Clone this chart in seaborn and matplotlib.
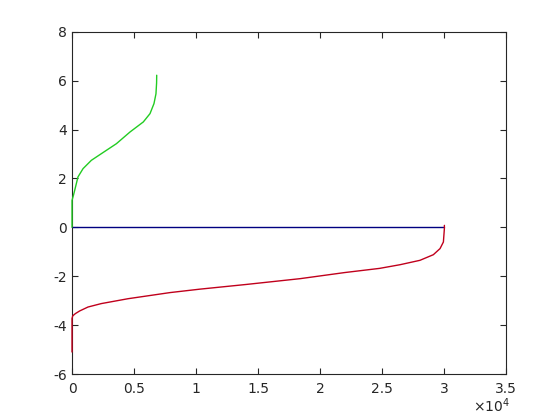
import matplotlib
matplotlib.use("Agg")
import matplotlib.pyplot as plt
import seaborn as sns
import pandas as pd

# Green curve (sorted positive values)
green_x = [0, 0, 110, 215, 480, 890, 1560, 2360, 3580, 4680, 5750, 6290, 6610, 6770, 6820, 6830]
green_y = [0.0, 1.1, 1.3, 1.51, 2.06, 2.40, 2.74, 3.01, 3.42, 3.90, 4.31, 4.65, 5.06, 5.46, 5.9, 6.22]

# Red curve (sorted negative values)
red_x = [0, 0, 60, 270, 620, 1290, 2360, 4520, 7900, 10300, 14000, 18400, 22000, 24800,
         26450, 28060, 29140, 29680, 29950, 30030, 30030]
red_y = [-5.1, -3.73, -3.62, -3.53, -3.42, -3.26, -3.12, -2.92, -2.67, -2.53, -2.34, -2.1,
         -1.85, -1.68, -1.53, -1.35, -1.12, -0.87, -0.6, -0.05, 0.08]

# Blue baseline
blue_x = [0, 30030]
blue_y = [0, 0]

xticks = [0, 5000, 10000, 15000, 20000, 25000, 30000, 35000]
xtick_labels = ['0', '0.5', '1', '1.5', '2', '2.5', '3', '3.5']
yticks = [-6, -4, -2, 0, 2, 4, 6, 8]
ytick_labels = ['-6', '-4', '-2', '0', '2', '4', '6', '8']

sns.set_style("white")
plt.rcParams['font.family'] = ['DejaVu Sans']

fig = plt.figure(figsize=(5.6, 4.2), dpi=100)
ax = fig.add_axes([0.1286, 0.1095, 0.775, 0.815])

dg = pd.DataFrame({'x': green_x, 'y': green_y})
dr = pd.DataFrame({'x': red_x, 'y': red_y})
db = pd.DataFrame({'x': blue_x, 'y': blue_y})

sns.lineplot(data=db, x='x', y='y', ax=ax, sort=False, estimator=None, color='#000080', lw=1.0)
sns.lineplot(data=dg, x='x', y='y', ax=ax, sort=False, estimator=None, color='#22cc22', lw=1.0)
sns.lineplot(data=dr, x='x', y='y', ax=ax, sort=False, estimator=None, color='#c0001c', lw=1.0)
for ln in ax.lines:
    ln.set_zorder(3)
    ln.set_clip_on(False)

ax.set_xlim(0, 35000)
ax.set_ylim(-6, 8)
ax.set_xticks(xticks)
ax.set_xticklabels(xtick_labels)
ax.set_yticks(yticks)
ax.set_yticklabels(ytick_labels)
ax.set_xlabel('')
ax.set_ylabel('')

for s in ax.spines.values():
    s.set_visible(True)
    s.set_color('#262626')
    s.set_linewidth(0.8)
    s.set_zorder(2)
ax.tick_params(direction='in', length=4, width=0.8, colors='#262626',
               labelcolor='#262626', labelsize=10, top=True, right=True,
               bottom=True, left=True)
ax.tick_params(axis='x', pad=6)
ax.grid(False)

fig.text(0.845, 0.018, r'$\times10^4$', fontsize=10, color='#262626')

fig.savefig('out.png', dpi=100)
